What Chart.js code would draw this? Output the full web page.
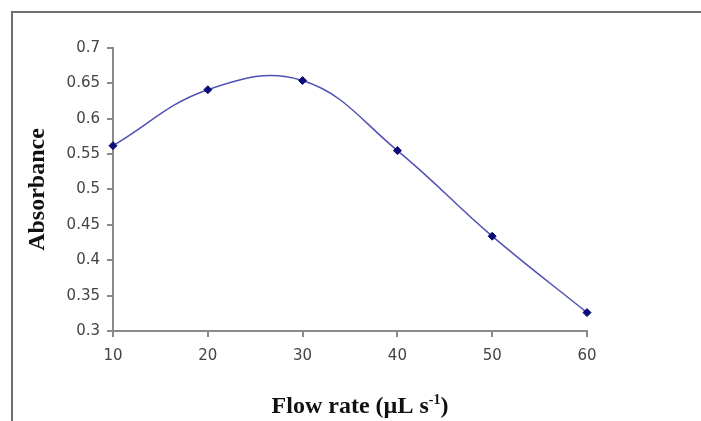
<!DOCTYPE html>
<html>
<head>
<meta charset="utf-8">
<script src="https://cdn.jsdelivr.net/npm/chart.js@4"></script>
<style>
  body { margin: 0; background: #fff; }
  #frame { position: absolute; left: 11px; top: 11px; width: 720px; height: 440px;
           border-left: 2px solid #707070; border-top: 2px solid #707070; }
  #wrap { position: absolute; left: 0; top: 0; width: 701px; height: 421px; }
</style>
</head>
<body>
<div id="frame"></div>
<div id="wrap"><canvas id="myChart" width="701" height="421"></canvas></div>
<script>
// flow rate (uL s-1) and absorbance
var flowRate = [10, 20, 30, 40, 50, 60];
var absorbance = [0.562, 0.641, 0.654, 0.555, 0.434, 0.326];
var xTicks = [10, 20, 30, 40, 50, 60];
var yTicks = [0.3, 0.35, 0.4, 0.45, 0.5, 0.55, 0.6, 0.65, 0.7];

var points = [];
flowRate.forEach(function (f, i) {
  points.push({ x: f, y: absorbance[i] });
});

// x axis title with a real superscript
var xTitlePlugin = {
  id: "xTitle",
  afterDraw: function (chart) {
    var ctx = chart.ctx;
    var big = "bold 24px 'Liberation Serif', 'Times New Roman', serif";
    var small = "bold 14px 'Liberation Serif', 'Times New Roman', serif";
    var part1 = "Flow rate (\u00b5L s";
    var sup = "-1";
    var part2 = ")";
    ctx.save();
    ctx.fillStyle = "#111";
    ctx.textBaseline = "alphabetic";
    ctx.font = big;
    var w1 = ctx.measureText(part1).width;
    var w3 = ctx.measureText(part2).width;
    ctx.font = small;
    var w2 = ctx.measureText(sup).width;
    var x = 360 - (w1 + w2 + w3) / 2;
    var y = 413;
    ctx.font = big;
    ctx.fillText(part1, x, y);
    ctx.font = small;
    ctx.fillText(sup, x + w1, y - 9);
    ctx.font = big;
    ctx.fillText(part2, x + w1 + w2, y);
    ctx.restore();
  }
};

var ctx = document.getElementById("myChart").getContext("2d");
var myChart = new Chart(ctx, {
  type: "line",
  data: {
    datasets: [
      {
        label: "Absorbance",
        data: points,
        borderColor: "#5050b4",
        borderWidth: 1.5,
        tension: 0.4,
        pointStyle: "rectRot",
        pointRadius: 4,
        pointBackgroundColor: "#0a0a78",
        pointBorderColor: "#0a0a78",
        pointBorderWidth: 1,
        clip: false
      }
    ]
  },
  options: {
    responsive: false,
    animation: false,
    devicePixelRatio: 1,
    layout: { padding: { left: 0, top: 48, right: 114, bottom: 0 } },
    plugins: {
      legend: { display: false },
      tooltip: { enabled: false }
    },
    scales: {
      x: {
        type: "linear",
        min: 10,
        max: 60,
        afterFit: function (scale) { scale.height = 90; },
        afterBuildTicks: function (scale) {
          scale.ticks = xTicks.map(function (v) { return { value: v }; });
        },
        grid: { drawOnChartArea: false, drawTicks: true, tickLength: 6, color: "#8a8a8a", lineWidth: 2 },
        border: { color: "#8a8a8a", width: 2 },
        ticks: {
          padding: 10,
          color: "#444",
          font: { family: "'DejaVu Sans', sans-serif", size: 15 },
          maxRotation: 0,
          callback: function (v) { return String(v); }
        }
      },
      y: {
        min: 0.3,
        max: 0.7,
        afterFit: function (scale) { scale.width = 113; },
        afterBuildTicks: function (scale) {
          scale.ticks = yTicks.map(function (v) { return { value: v }; });
        },
        grid: { drawOnChartArea: false, drawTicks: true, tickLength: 6, color: "#8a8a8a", lineWidth: 2 },
        border: { color: "#8a8a8a", width: 2 },
        ticks: {
          padding: 7,
          color: "#444",
          font: { family: "'DejaVu Sans', sans-serif", size: 15 },
          callback: function (v) { return String(v); }
        },
        title: {
          display: true,
          text: "Absorbance",
          color: "#111",
          padding: { top: 23, bottom: 0 },
          font: { family: "'Liberation Serif', 'Times New Roman', serif", size: 24, weight: "bold" }
        }
      }
    }
  },
  plugins: [xTitlePlugin]
});
</script>
</body>
</html>
